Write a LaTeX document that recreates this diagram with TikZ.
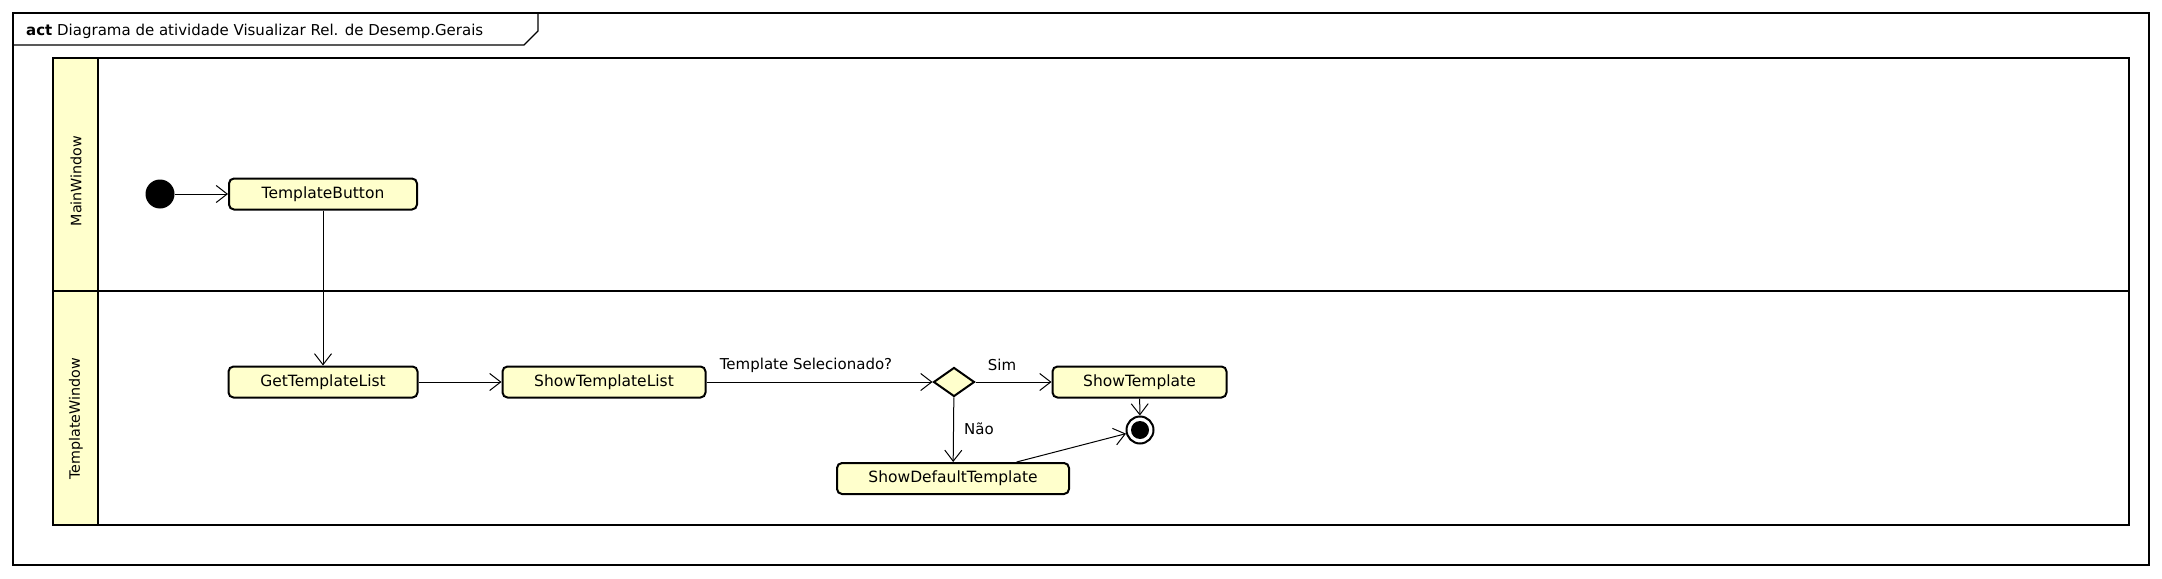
\documentclass[tikz,border=0pt]{standalone}
\usepackage{fontspec}
\setmainfont{DejaVu Sans}
\usetikzlibrary{arrows.meta,shapes.geometric}
\definecolor{actfill}{HTML}{FFFFCC}
\tikzset{
  action/.style={draw=black, line width=2pt, fill=actfill, rounded corners=5pt,
    minimum height=31pt, inner sep=0pt, font=\fontsize{15.5}{18}\selectfont},
  flow/.style={draw=black, line width=1pt,
    -{Straight Barb[length=11pt,width=17pt,line width=1pt]}},
  lbl/.style={inner sep=0pt, font=\fontsize{15}{18}\selectfont},
  lanehead/.style={inner sep=0pt, rotate=90, font=\fontsize{14.3}{18}\selectfont},
}
\begin{document}
\begin{tikzpicture}[x=1pt,y=-1pt]
\useasboundingbox (0,0) rectangle (2162,578);
% outer frame
\draw[line width=1.2pt] (13,13) rectangle (2149,565);
\draw[line width=1.2pt] (13,45) -- (524,45) -- (538,31) -- (538,13);
\node[lbl, anchor=west] (title) at (26,31) {\textbf{act} Diagrama de atividade Visualizar Rel. de Desemp.Gerais};
% swimlanes
\fill[actfill] (53,58) rectangle (98,525);
\draw[line width=2.6pt] (53,58) rectangle (2129,525);
\draw[line width=2.6pt] (98,58) -- (98,525);
\draw[line width=2.6pt] (53,291) -- (2129,291);
\node[lanehead] (lane1) at (76,181) {MainWindow};
\node[lanehead] (lane2) at (76,419) {TemplateWindow};
% nodes
\node[circle, fill=black, minimum size=29pt, inner sep=0pt] (init) at (160,194) {};
\node[action, minimum width=188pt] (tb) at (323,194) {TemplateButton};
\node[action, minimum width=189pt] (gtl) at (323,382) {GetTemplateList};
\node[action, minimum width=203pt] (stl) at (604,382) {ShowTemplateList};
\node[diamond, draw=black, line width=2pt, fill=actfill, minimum width=41pt, minimum height=29pt, inner sep=0pt] (dec) at (954,382) {};
\node[action, minimum width=174pt] (st) at (1139.5,382) {ShowTemplate};
\node[action, minimum width=232pt] (sdt) at (953,478.5) {ShowDefaultTemplate};
\node[circle, draw=black, line width=2pt, fill=white, minimum size=27pt, inner sep=0pt] (fin) at (1140,430) {};
\node[circle, fill=black, minimum size=18pt, inner sep=0pt] (finin) at (fin.center) {};
% labels
\node[lbl] (lsel) at (806,365) {Template Selecionado?};
\node[lbl] (lsim) at (1002,365) {Sim};
\node[lbl] (lnao) at (979,429) {Não};
% flows
\draw[flow] (init) -- (tb);
\draw[flow] (tb) -- (gtl);
\draw[flow] (gtl) -- (stl);
\draw[flow] (stl) -- (dec);
\draw[flow] (dec) -- (st);
\draw[flow] (dec) -- (sdt);
\draw[flow] (st) -- (fin);
\draw[flow] (sdt) -- (fin);
\end{tikzpicture}
\end{document}
